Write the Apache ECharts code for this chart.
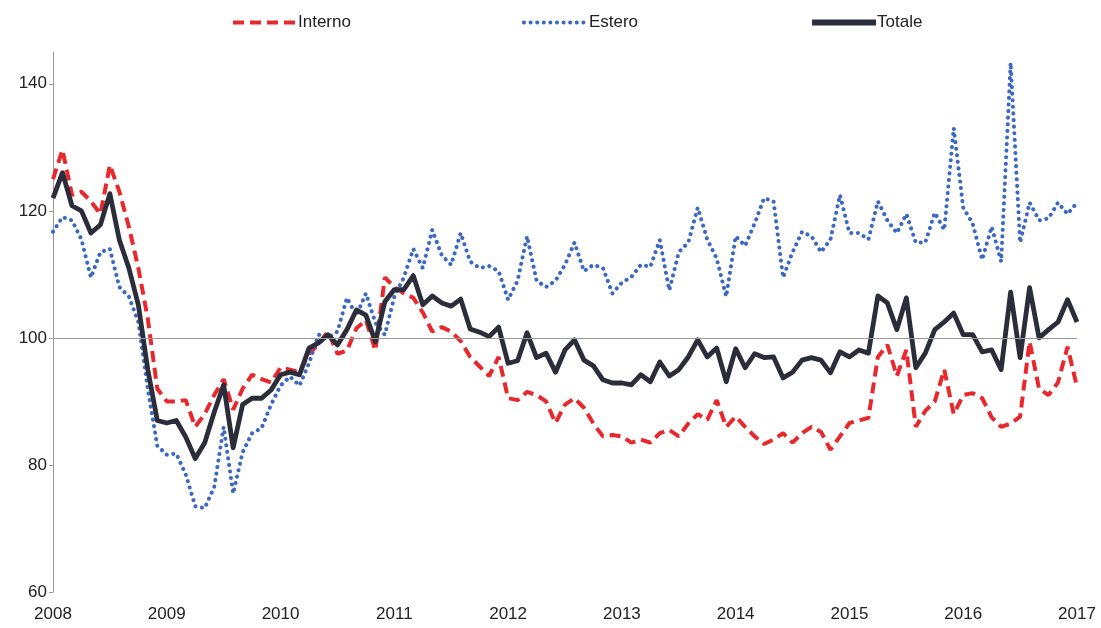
<!DOCTYPE html>
<html>
<head>
<meta charset="utf-8">
<script src="https://cdn.jsdelivr.net/npm/echarts@6/dist/echarts.min.js"></script>
<style>
  html, body { margin: 0; padding: 0; background: #fff; }
  #chart { width: 1101px; height: 628px; }
</style>
</head>
<body>
<div id="chart"></div>
<script>
// monthly, Jan 2008 .. Jan 2017
const years = ['2008', '2009', '2010', '2011', '2012', '2013', '2014', '2015', '2016', '2017']

const interno = [
  125, 129.6, 122.5, 123, 121.5, 119.5, 127.2, 123, 117.5, 111, 103, 92,
  90, 90, 90.2, 86, 88, 91, 93.5, 88.7, 92, 94.2, 93.5, 93,
  95.3, 95, 94.6, 97.5, 99, 101, 97.5, 98, 101.5, 102.8, 98, 109.5,
  108, 107, 106.3, 104, 101, 101.7, 101, 99.5, 97, 95.5, 94, 97,
  90.5, 90.2, 91.5, 91, 90, 86.6, 89.5, 90.5, 89, 86.5, 84.5, 84.7,
  84.5, 83.5, 84, 83.5, 85, 85.5, 84.5, 86.5, 88, 87.1, 90.2, 86,
  87.6, 86, 84.5, 83.3, 84, 85, 83.5, 85, 86, 85.2, 82.4, 84.5,
  86.6, 87, 87.4, 97, 98.9, 94, 98.1, 86, 88.5, 90, 95, 88,
  91, 91.3, 90.5, 87.5, 86, 86.5, 87.6, 99.4, 92, 91, 93, 98.6,
  92.3
]

const estero = [
  116.7, 119, 118.5, 115.5, 109.5, 113.5, 114, 108, 106.5, 102.5, 92, 83,
  81.6, 81.8, 78.5, 73.5, 73.2, 76.5, 86, 75.5, 82, 85, 85.8, 89.5,
  92.5, 93.9, 92.5, 96, 100.5, 100, 101, 106.3, 103.5, 107, 102.4, 100.5,
  106.5, 109.5, 114, 111, 117, 113, 111.5, 116.5, 112, 111, 111.3, 110.5,
  106, 109, 116, 109, 108, 109, 111.5, 115, 110.5, 111.5, 111, 107,
  108.7, 109.6, 111.5, 111.2, 115.4, 107.5, 113.5, 115, 120.5, 115.5, 112.5, 106.5,
  116, 114.5, 118, 122, 121.5, 109.5, 113.5, 116.7, 116, 113.5, 115.5, 122.5,
  116.5, 116.5, 115.5, 121.5, 118.5, 116.5, 119.5, 115, 115, 119.7, 117, 133,
  120.5, 118, 112.3, 117.5, 112, 143.3, 115, 121.3, 118.5, 118.8, 121.3, 119.5,
  121.3
]

const totale = [
  122, 126, 120.8, 120, 116.5, 117.8, 122.7, 115.4, 111, 105.2, 95, 87,
  86.6, 87, 84.4, 81, 83.5, 88.3, 92.6, 82.7, 89.5, 90.5, 90.5, 91.8,
  94.2, 94.6, 94.2, 98.4, 99.2, 100.5, 98.9, 101.3, 104.4, 103.6, 99.4, 105.7,
  107.6, 107.6, 109.8, 105.2, 106.6, 105.5, 105, 106.1, 101.4, 100.9, 100.2, 101.7,
  96, 96.4, 100.8, 96.9, 97.6, 94.6, 98.1, 99.7, 96.5, 95.6, 93.4, 92.9,
  92.9, 92.6, 94.2, 93.1, 96.2, 94, 95, 97, 99.7, 97, 98.4, 93.1,
  98.3, 95.3, 97.5, 96.9, 97, 93.7, 94.6, 96.5, 96.9, 96.5, 94.5, 97.8,
  97, 98.1, 97.6, 106.6, 105.5, 101.3, 106.3, 95.3, 97.6, 101.3, 102.5, 103.9,
  100.5, 100.5, 97.8, 98.1, 95, 107.2, 96.9, 107.9, 100, 101.3, 102.5, 106,
  102.5
]

const yTicks = [60, 80, 100, 120, 140]

const months = []
years.forEach((y, k) => {
  const n = k === years.length - 1 ? 1 : 12
  for (let m = 1; m <= n; m++) months.push(y + '-' + String(m).padStart(2, '0'))
})

const FONT = "'Liberation Sans', Arial, sans-serif"

const chart = echarts.init(document.getElementById('chart'), null, { renderer: 'canvas' })

chart.setOption({
  animation: false,
  backgroundColor: '#ffffff',
  textStyle: { fontFamily: FONT },
  grid: { left: 53, right: 24, top: 52, bottom: 36 },
  legend: {
    top: 9,
    left: 226,
    itemGap: 171,
    itemWidth: 64,
    itemHeight: 16,
    itemStyle: { opacity: 0 },
    lineStyle: { width: 'inherit' },
    textStyle: { fontFamily: FONT, fontSize: 17, color: '#222', padding: [0, 0, 0, -4] },
    data: [
      { name: 'Interno' },
      { name: 'Estero' },
      { name: 'Totale', lineStyle: { width: 6 } }
    ]
  },
  xAxis: {
    type: 'category',
    boundaryGap: false,
    data: months,
    axisLine: { show: false },
    axisTick: { show: false },
    axisLabel: {
      interval: (i) => i % 12 === 0,
      formatter: (v) => v.slice(0, 4),
      fontFamily: FONT,
      fontSize: 17,
      color: '#222',
      margin: 14
    },
    splitLine: { show: false }
  },
  yAxis: {
    type: 'value',
    min: yTicks[0],
    max: 145,
    interval: 20,
    axisLine: { show: true, lineStyle: { color: '#9a9a9a', width: 1 } },
    axisTick: { show: true, length: 4, lineStyle: { color: '#9a9a9a' } },
    axisLabel: {
      showMaxLabel: false,
      fontFamily: FONT,
      fontSize: 17,
      color: '#222',
      margin: 6
    },
    splitLine: { show: false }
  },
  series: [
    {
      name: 'Interno',
      type: 'line',
      data: interno,
      symbol: 'none',
      color: '#e8282c',
      lineStyle: { width: 4, type: [11, 6], color: '#e8282c' },
      markLine: {
        silent: true,
        symbol: 'none',
        label: { show: false },
        lineStyle: { color: '#9a9a9a', width: 1, type: 'solid' },
        data: [{ yAxis: 100 }]
      }
    },
    {
      name: 'Estero',
      type: 'line',
      data: estero,
      symbol: 'none',
      color: '#3a68c2',
      lineStyle: { width: 4, type: [0.1, 6.5], cap: 'round', color: '#3a68c2' }
    },
    {
      name: 'Totale',
      type: 'line',
      data: totale,
      symbol: 'none',
      color: '#2b2d3b',
      lineStyle: { width: 4.8, color: '#2b2d3b', join: 'round' }
    }
  ]
})
</script>
</body>
</html>
